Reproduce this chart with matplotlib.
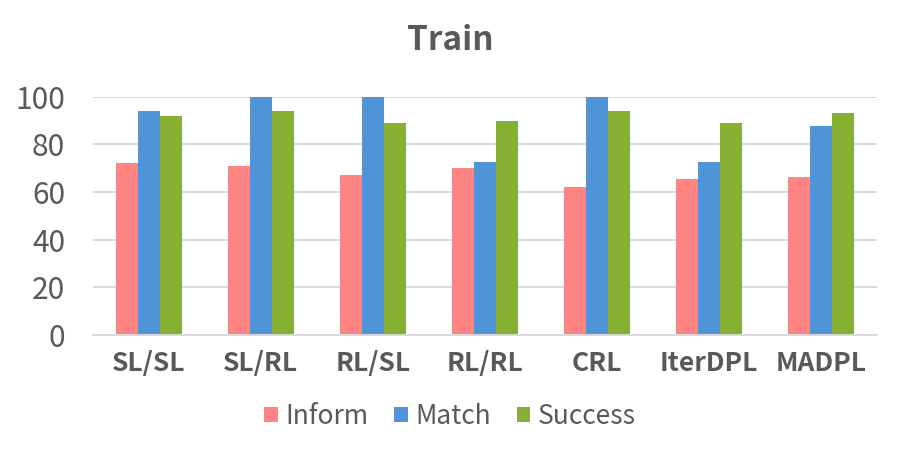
import numpy as np
import matplotlib
matplotlib.use('Agg')
import matplotlib.pyplot as plt

plt.rcParams['font.family'] = ['Noto Sans CJK SC', 'DejaVu Sans']

# data
categories = ['SL/SL', 'SL/RL', 'RL/SL', 'RL/RL', 'CRL', 'IterDPL', 'MADPL']
inform = [72, 71, 67, 70, 62, 65.5, 66.3]
match = [94, 100, 100, 72.6, 100, 72.6, 87.7]
success = [92, 94, 89, 89.8, 94, 89, 93.2]
series_names = ['Inform', 'Match', 'Success']
colors = ['#FF8585', '#4F93D9', '#86B032']
text_color = '#595959'

fig = plt.figure(figsize=(9, 4.49), dpi=100)
ax = fig.add_axes([0.1033, 0.2539, 0.8711, 0.5307])

ind = np.arange(len(categories))
width = 0.194
for k, vals in enumerate([inform, match, success]):
    ax.bar(ind + (k - 1) * width, vals, width, color=colors[k],
           label=series_names[k], zorder=3)

ax.set_xlim(-0.5, len(categories) - 0.5)
ax.set_ylim(0, 100)
ax.set_yticks(np.arange(0, 101, 20))
ax.yaxis.grid(True, color='#D9D9D9', linewidth=1.4, zorder=0)
for s in ['top', 'right', 'left']:
    ax.spines[s].set_visible(False)
ax.spines['bottom'].set_color('#D9D9D9')
ax.spines['bottom'].set_linewidth(1.4)
ax.spines['bottom'].set_zorder(4)
ax.tick_params(axis='both', length=0)
ax.tick_params(axis='y', labelsize=21.5, labelcolor=text_color, pad=20)
ax.tick_params(axis='x', pad=11)
ax.set_xticks(ind)
ax.set_xticklabels(categories, fontsize=19, fontweight='bold', color=text_color)

fig.text(0.5, 0.91, 'Train', ha='center', va='center', fontsize=24,
         fontweight='bold', color=text_color)

leg = fig.legend(loc='center', bbox_to_anchor=(0.5, 0.072), ncol=3, frameon=False,
                 fontsize=19, handlelength=0.5, handleheight=0.5,
                 handletextpad=0.28, columnspacing=1.0)
for t in leg.get_texts():
    t.set_color(text_color)

fig.savefig('out.png', dpi=100)
